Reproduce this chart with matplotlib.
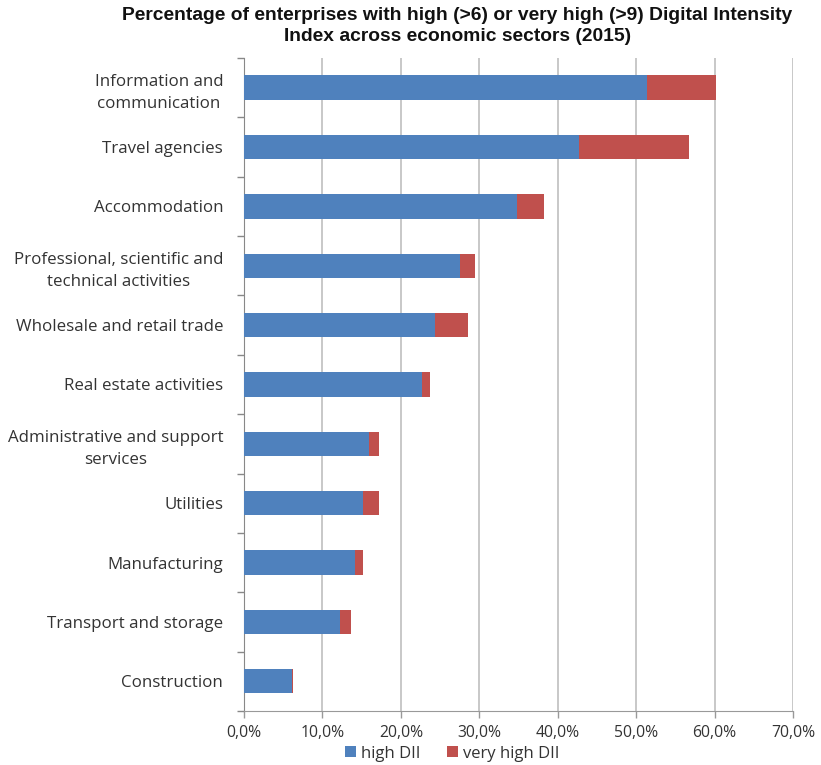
import numpy as np
import matplotlib.pyplot as plt
from matplotlib.ticker import FuncFormatter, FixedLocator

sectors = [
    "Information and\ncommunication",
    "Travel agencies",
    "Accommodation",
    "Professional, scientific and\ntechnical activities",
    "Wholesale and retail trade",
    "Real estate activities",
    "Administrative and support\nservices",
    "Utilities",
    "Manufacturing",
    "Transport and storage",
    "Construction",
]
high_dii = [51.4, 42.7, 34.8, 27.5, 24.3, 22.7, 15.9, 15.2, 14.2, 12.2, 6.1]
very_high_dii = [8.8, 14.1, 3.5, 1.9, 4.3, 1.0, 1.3, 2.0, 1.0, 1.5, 0.2]

blue = "#4F81BD"
red = "#C0504D"
txt = "#333333"

fig = plt.figure(figsize=(8.21, 7.65), dpi=100)
ax = fig.add_axes([0.2972, 0.0706, 0.6687, 0.8536])

y = np.arange(len(sectors))
ax.barh(y, high_dii, height=0.41, color=blue, label="high DII", zorder=3)
ax.barh(y, very_high_dii, left=high_dii, height=0.41, color=red,
        label="very high DII", zorder=3)

ax.set_xlim(0, 70)
ax.set_ylim(len(sectors) - 0.5, -0.5)
ax.set_xticks(np.arange(0, 71, 10))
ax.xaxis.set_major_formatter(FuncFormatter(lambda v, p: f"{v:.1f}%".replace(".", ",")))
ax.grid(axis="x", color="#BFBFBF", lw=1.2, zorder=0)

ax.set_yticks(y)
ax.set_yticklabels(sectors, fontfamily="Open Sans", fontsize=12.2, color=txt,
                   linespacing=1.55, multialignment="center")
ax.tick_params(axis="y", length=0, pad=15)
ax.yaxis.set_minor_locator(FixedLocator(np.arange(-0.5, len(sectors), 1)))
ax.tick_params(axis="y", which="minor", length=5, color="#888888", width=1)
ax.tick_params(axis="x", length=5, color="#999999", width=1, colors=txt,
               labelsize=11.3, pad=5)
for lab in ax.get_xticklabels():
    lab.set_fontfamily("Open Sans")

for s in ["top", "right"]:
    ax.spines[s].set_visible(False)
ax.spines["left"].set_color("#888888")
ax.spines["bottom"].set_color("#999999")

fig.text(0.557, 0.9655,
         "Percentage of enterprises with high (>6) or very high (>9) Digital Intensity\n"
         "Index across economic sectors (2015)",
         ha="center", va="center", fontsize=13.9, fontweight="bold",
         fontfamily="Liberation Sans", color="#111111", linespacing=1.3)

leg = fig.legend(loc="center", bbox_to_anchor=(0.551, 0.015), ncol=2, frameon=False,
                 handlelength=0.65, handleheight=0.65, handletextpad=0.3,
                 columnspacing=1.6, prop={"family": "Open Sans", "size": 12})
for t in leg.get_texts():
    t.set_color(txt)

fig.savefig("out.png", dpi=100)
